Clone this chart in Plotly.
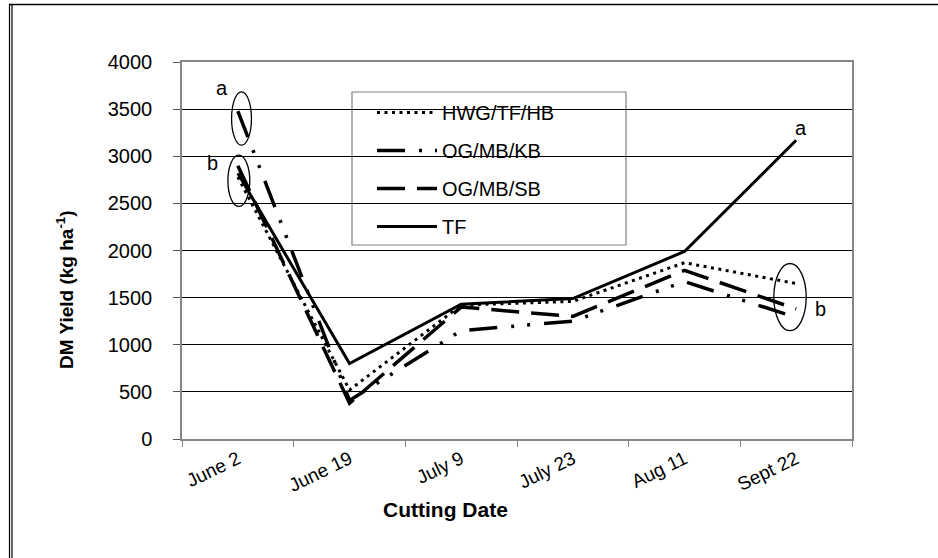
import plotly.graph_objects as go

# Cutting dates and dry-matter yields (kg/ha) for each forage mixture
dates = ["June 2", "June 19", "July 9", "July 23", "Aug 11", "Sept 22"]
hwg_tf_hb = [2780, 520, 1420, 1460, 1870, 1650]
og_mb_kb = [3480, 410, 1150, 1250, 1670, 1290]
og_mb_sb = [2900, 380, 1400, 1300, 1790, 1380]
tf = [2820, 800, 1430, 1490, 1990, 3170]

y_ticks = [0, 500, 1000, 1500, 2000, 2500, 3000, 3500, 4000]

W, H = 938, 558
ML, MR, MT, MB = 182, 86, 62, 119
PW, PH = W - ML - MR, H - MT - MB

def px_x(px):
    return (px - ML) / PW

def px_y(py):
    return (H - MB - py) / PH

FONT = "Liberation Sans, Arial, sans-serif"

series = [
    ("HWG/TF/HB", hwg_tf_hb, dict(color="black", width=3, dash="3px,4.5px")),
    ("OG/MB/KB", og_mb_kb, dict(color="black", width=3.5,
                                 dash="28px,14px,3px,13px,3px,14px")),
    ("OG/MB/SB", og_mb_sb, dict(color="black", width=3.5, dash="28px,12px")),
    ("TF", tf, dict(color="black", width=3)),
]

fig = go.Figure()
for i, (name, vals, line) in enumerate(series):
    fig.add_trace(go.Scatter(
        x=dates, y=vals, name=name, mode="lines", line=line,
        legendgroup=f"g{i}",
    ))

shapes = []
# legend frame (covers the gridlines behind it)
shapes.append(dict(type="rect", xref="paper", yref="paper",
                   x0=px_x(352), x1=px_x(626), y0=px_y(245), y1=px_y(92),
                   line=dict(color="#808080", width=1.2), fillcolor="white",
                   layer="between"))
# significance groupings
shapes.append(dict(type="circle", xref="x", yref="y",
                   x0=-0.056, x1=0.122, y0=3117, y1=3684,
                   line=dict(color="black", width=1.3)))
shapes.append(dict(type="circle", xref="x", yref="y",
                   x0=-0.089, x1=0.107, y0=2468, y1=3011,
                   line=dict(color="black", width=1.3)))
shapes.append(dict(type="circle", xref="x", yref="y",
                   x0=4.80, x1=5.09, y0=1149, y1=1862,
                   line=dict(color="black", width=1.3)))
# outer chart frame (left double rule and top rule)
shapes.append(dict(type="line", xref="paper", yref="paper",
                   x0=px_x(9.5), x1=px_x(9.5), y0=px_y(4), y1=px_y(560),
                   line=dict(color="black", width=1.2)))
shapes.append(dict(type="line", xref="paper", yref="paper",
                   x0=px_x(12), x1=px_x(12), y0=px_y(4), y1=px_y(560),
                   line=dict(color="black", width=1.2)))
shapes.append(dict(type="line", xref="paper", yref="paper",
                   x0=px_x(9), x1=px_x(940), y0=px_y(4.5), y1=px_y(4.5),
                   line=dict(color="black", width=1.5)))

LETTER = dict(size=20, color="black", family=FONT)
annotations = [
    dict(x=-0.14, y=3723, xref="x", yref="y", text="a", showarrow=False,
         font=LETTER),
    dict(x=-0.23, y=2926, xref="x", yref="y", text="b", showarrow=False,
         font=LETTER),
    dict(x=5.04, y=3298, xref="x", yref="y", text="a", showarrow=False,
         font=LETTER),
    dict(x=5.22, y=1383, xref="x", yref="y", text="b", showarrow=False,
         font=LETTER),
    dict(x=px_x(65), y=px_y(290), xref="paper", yref="paper",
         xanchor="center", yanchor="middle",
         text="<b>DM Yield (kg ha<sup>-1</sup>)</b>", textangle=-90,
         showarrow=False, font=dict(size=19, color="black", family=FONT)),
    dict(x=px_x(445), y=px_y(509), xref="paper", yref="paper",
         xanchor="center", yanchor="middle",
         text="<b>Cutting Date</b>", showarrow=False,
         font=dict(size=21, color="black", family=FONT)),
]

fig.update_layout(
    width=W, height=H,
    margin=dict(l=ML, r=MR, t=MT, b=MB, pad=0),
    paper_bgcolor="white", plot_bgcolor="white",
    font=dict(family=FONT, color="black", size=18),
    showlegend=True,
    legend=dict(
        title=dict(text=""),
        x=px_x(372), y=px_y(93), xanchor="left", yanchor="top",
        bgcolor="rgba(0,0,0,0)", borderwidth=0,
        font=dict(size=20, family=FONT, color="black"),
        tracegroupgap=9, itemwidth=60,
    ),
    shapes=shapes,
    annotations=annotations,
    xaxis=dict(
        type="category", categoryorder="array", categoryarray=dates,
        range=[-0.5, 5.5], tickson="boundaries", ticks="outside",
        ticklen=6, tickcolor="#868686", tickwidth=1,
        showline=True, linecolor="#868686", linewidth=1.5, mirror=True,
        showgrid=False, tickangle=-26,
        tickfont=dict(size=19, family=FONT, color="black"),
    ),
    yaxis=dict(
        range=[0, 4000], tickvals=y_ticks, ticks="outside", ticklen=7,
        tickcolor="#555555", tickwidth=1, ticklabelstandoff=17,
        showline=True, linecolor="#868686", linewidth=1.5, mirror=True,
        showgrid=True, gridcolor="black", gridwidth=1, zeroline=False,
        tickfont=dict(size=20, family=FONT, color="black"),
    ),
)

fig.write_html("out.html")
